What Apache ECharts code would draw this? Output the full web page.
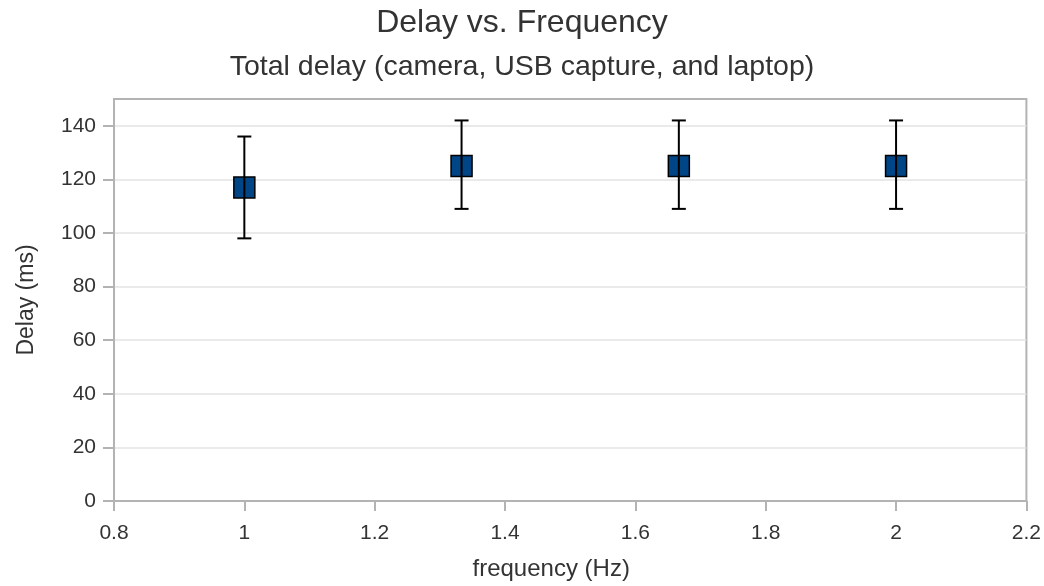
<!DOCTYPE html>
<html>
<head>
<meta charset="utf-8">
<script src="https://cdn.jsdelivr.net/npm/echarts@6/dist/echarts.min.js"></script>
<style>
html, body { margin: 0; padding: 0; background: #ffffff; }
#chart { width: 1044px; height: 586px; }
</style>
</head>
<body>
<div id="chart"></div>
<script>
// ---- Data ----
const frequencies = [1.0, 1.3333, 1.6667, 2.0];
const delays = [117, 125, 125, 125];
const delayLow = [98, 109, 109, 109];
const delayHigh = [136, 142, 142, 142];
const yTickValues = [0, 20, 40, 60, 80, 100, 120, 140];
const chartTitle = 'Delay vs. Frequency';
const chartSubtitle = 'Total delay (camera, USB capture, and laptop)';
const xName = 'frequency (Hz)';
const yName = 'Delay (ms)';

const FONT = '"Liberation Sans", Arial, Helvetica, sans-serif';
const chart = echarts.init(document.getElementById('chart'), null, { renderer: 'canvas' });

const pointData = frequencies.map((f, i) => [f, delays[i]]);
const errData = frequencies.map((f, i) => [f, delayLow[i], delayHigh[i]]);

const option = {
  backgroundColor: '#ffffff',
  animation: false,
  title: [
    { text: chartTitle, left: 'center', top: 2,
      textStyle: { fontFamily: FONT, fontSize: 32, fontWeight: 'normal', color: '#333333' } },
    { text: chartSubtitle, left: 'center', top: 48,
      textStyle: { fontFamily: FONT, fontSize: 28.5, fontWeight: 'normal', color: '#333333' } }
  ],
  grid: {
    left: 114, right: 17, top: 99, bottom: 85,
    show: true, borderColor: '#b3b3b3', borderWidth: 2, backgroundColor: '#ffffff'
  },
  xAxis: {
    type: 'value', min: 0.8, max: 2.2, interval: 0.2,
    name: xName, nameLocation: 'middle', nameGap: 56,
    nameTextStyle: { fontFamily: FONT, fontSize: 24, color: '#333333', padding: [0, 38, 0, 0] },
    axisLine: { show: true, onZero: false, lineStyle: { color: '#b3b3b3', width: 2 } },
    axisTick: { show: true, length: 10, lineStyle: { color: '#b3b3b3', width: 2 } },
    axisLabel: { fontFamily: FONT, fontSize: 21, color: '#333333', margin: 22,
      formatter: v => String(Math.round(v * 10) / 10) },
    splitLine: { show: false }
  },
  yAxis: {
    type: 'value', min: 0, max: 150, interval: 20,
    name: yName, nameLocation: 'middle', nameGap: 76, nameRotate: 90,
    nameTextStyle: { fontFamily: FONT, fontSize: 23, color: '#333333' },
    axisLine: { show: true, lineStyle: { color: '#b3b3b3', width: 2 } },
    axisTick: { show: true, length: 11, customValues: yTickValues, lineStyle: { color: '#b3b3b3', width: 2 } },
    axisLabel: { fontFamily: FONT, fontSize: 21, color: '#333333', margin: 18, customValues: yTickValues },
    splitLine: { show: true, lineStyle: { color: '#e3e3e3', width: 1.5 } }
  },
  series: [
    {
      type: 'scatter',
      data: pointData,
      symbol: 'rect',
      symbolSize: 21,
      itemStyle: { color: '#004586', borderColor: '#000000', borderWidth: 1.5, opacity: 1 },
      z: 2
    },
    {
      type: 'custom',
      data: errData,
      encode: { x: 0, y: [1, 2] },
      z: 3,
      renderItem: function (params, api) {
        const x = api.value(0);
        const pLo = api.coord([x, api.value(1)]);
        const pHi = api.coord([x, api.value(2)]);
        const hw = 7;
        const style = { stroke: '#000000', lineWidth: 2 };
        return {
          type: 'group',
          children: [
            { type: 'line', shape: { x1: pLo[0], y1: pLo[1], x2: pHi[0], y2: pHi[1] }, style: style },
            { type: 'line', shape: { x1: pLo[0] - hw, y1: pLo[1], x2: pLo[0] + hw, y2: pLo[1] }, style: style },
            { type: 'line', shape: { x1: pHi[0] - hw, y1: pHi[1], x2: pHi[0] + hw, y2: pHi[1] }, style: style }
          ]
        };
      }
    }
  ]
};
chart.setOption(option);
</script>
</body>
</html>
